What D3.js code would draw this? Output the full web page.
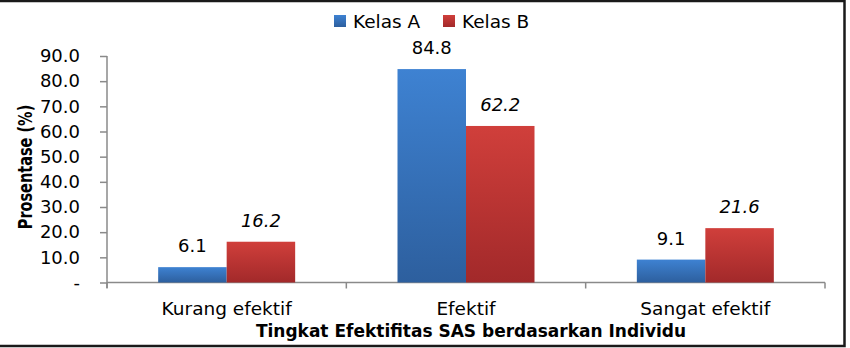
<!DOCTYPE html>
<html>
<head>
<meta charset="utf-8">
<script src="https://cdn.jsdelivr.net/npm/d3@7"></script>
<style>
  body { margin: 0; background: #fff; }
  svg text { font-family: "DejaVu Sans", sans-serif; fill: #000; }
</style>
</head>
<body>
<div id="chart"></div>
<script>
// data
var categories = ["Kurang efektif", "Efektif", "Sangat efektif"]
var seriesNames = ["Kelas A", "Kelas B"]
var kelasA = [6.1, 84.8, 9.1]
var kelasB = [16.2, 62.2, 21.6]
var yTicks = [0, 10, 20, 30, 40, 50, 60, 70, 80, 90]

var width = 850, height = 348
var colors = { "Kelas A": ["#3e82d2", "#2d5f9e"], "Kelas B": ["#d03f3b", "#a2292a"] }

var svg = d3.select("#chart").append("svg")
    .attr("width", width)
    .attr("height", height)

// gradients for the bars
var defs = svg.append("defs")
seriesNames.forEach(function (s, i) {
    var g = defs.append("linearGradient")
        .attr("id", "grad" + i)
        .attr("x1", 0).attr("y1", 0).attr("x2", 0).attr("y2", 1)
    g.append("stop").attr("offset", "0%").attr("stop-color", colors[s][0])
    g.append("stop").attr("offset", "100%").attr("stop-color", colors[s][1])
})

// outer frame (top, right, bottom)
svg.append("path")
    .attr("d", "M0,1H844.5V346H0")
    .attr("fill", "none")
    .attr("stroke", "#1a1a1a")
    .attr("stroke-width", 2.5)

var x0 = d3.scaleBand().domain(categories).range([107, 825]).padding(0)
var x1 = d3.scaleBand().domain(seriesNames).range([0, x0.bandwidth()])
    .paddingInner(0).paddingOuter(0.747)
var y = d3.scaleLinear().domain([0, 90]).range([282.5, 56])

var rows = categories.map(function (c, i) {
    return { cat: c, vals: [
        { s: "Kelas A", v: kelasA[i], idx: 0 },
        { s: "Kelas B", v: kelasB[i], idx: 1 }
    ] }
})

// y axis
var yAxis = d3.axisLeft(y)
    .tickValues(yTicks)
    .tickSize(7)
    .tickPadding(20)
    .tickFormat(function (d) { return d === 0 ? "-" : d3.format(".1f")(d) })
var yg = svg.append("g")
    .attr("transform", "translate(107,0)")
    .call(yAxis)
yg.select(".domain").attr("stroke", "#8a8a8a").attr("stroke-width", 1.5)
    .attr("d", "M0,56V288")
yg.selectAll(".tick line").attr("stroke", "#8a8a8a").attr("stroke-width", 1.5)
yg.selectAll(".tick text")
    .style("font-family", "DejaVu Sans")
    .attr("font-size", 18)
    .attr("fill", "#000")

// x axis line + ticks at category boundaries
svg.append("line")
    .attr("x1", 107).attr("x2", 825)
    .attr("y1", y(0)).attr("y2", y(0))
    .attr("stroke", "#8a8a8a").attr("stroke-width", 1.5)
var bounds = categories.map(function (c) { return x0(c) }).concat([x0.range()[1]])
svg.selectAll(".xtick")
    .data(bounds)
    .enter()
    .append("line")
    .attr("x1", d => d).attr("x2", d => d)
    .attr("y1", y(0)).attr("y2", y(0) + 6)
    .attr("stroke", "#8a8a8a").attr("stroke-width", 1.5)

// bars
var groups = svg.selectAll(".grp")
    .data(rows)
    .enter()
    .append("g")
    .attr("transform", d => "translate(" + x0(d.cat) + ",0)")

groups.selectAll("rect")
    .data(d => d.vals)
    .enter()
    .append("rect")
    .attr("x", d => x1(d.s))
    .attr("width", x1.bandwidth())
    .attr("y", d => y(d.v))
    .attr("height", d => y(0) - y(d.v))
    .attr("fill", d => "url(#grad" + d.idx + ")")

// value labels
groups.selectAll(".lbl")
    .data(d => d.vals)
    .enter()
    .append("text")
    .attr("x", d => x1(d.s) + x1.bandwidth() / 2)
    .attr("y", d => y(d.v) - 15)
    .attr("text-anchor", "middle")
    .attr("font-size", 18)
    .attr("font-style", d => d.idx == 1 ? "italic" : "normal")
    .text(d => d3.format(".1f")(d.v))

// category labels
svg.selectAll(".cat")
    .data(categories)
    .enter()
    .append("text")
    .attr("x", d => x0(d) + x0.bandwidth() / 2)
    .attr("y", 315)
    .attr("text-anchor", "middle")
    .attr("font-size", 18.5)
    .text(d => d)

// axis titles
svg.append("text")
    .attr("x", 471)
    .attr("y", 337)
    .attr("text-anchor", "middle")
    .attr("font-size", 17)
    .attr("font-weight", "bold")
    .text("Tingkat Efektifitas SAS berdasarkan Individu")

svg.append("text")
    .attr("transform", "translate(32,167) rotate(-90) scale(1,1.35)")
    .attr("text-anchor", "middle")
    .attr("font-size", 14.5)
    .attr("font-weight", "bold")
    .text("Prosentase (%)")

// legend
var legX = [334, 443]
var leg = svg.selectAll(".leg")
    .data(seriesNames)
    .enter()
    .append("g")
    .attr("transform", (d, i) => "translate(" + legX[i] + ",15)")
leg.append("rect")
    .attr("width", 12).attr("height", 12)
    .attr("fill", (d, i) => "url(#grad" + i + ")")
leg.append("text")
    .attr("x", 19)
    .attr("y", 12.5)
    .attr("font-size", 18.5)
    .text(d => d)
</script>
</body>
</html>
